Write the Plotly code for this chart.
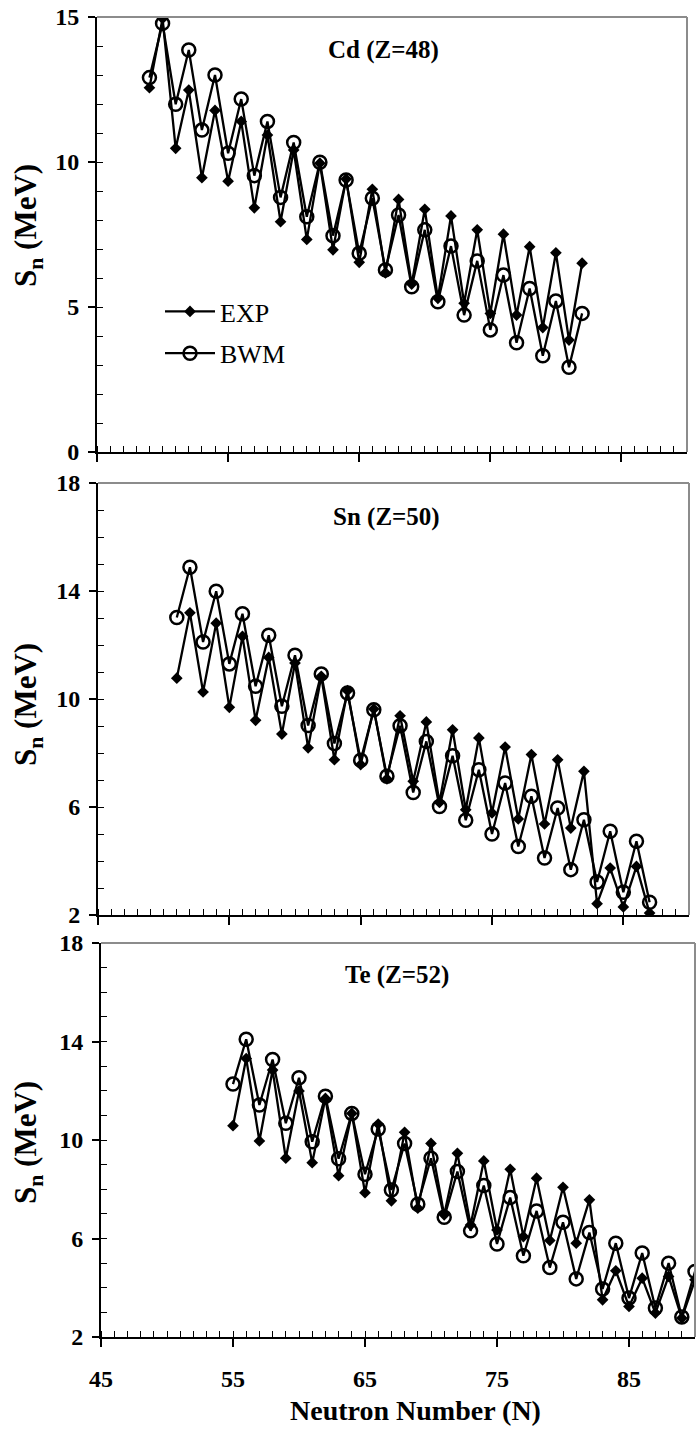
import plotly.graph_objects as go

W, H = 699, 1433

# ---------------- data ----------------
n_cd = [49, 50, 51, 52, 53, 54, 55, 56, 57, 58, 59, 60, 61, 62, 63, 64, 65,
        66, 67, 68, 69, 70, 71, 72, 73, 74, 75, 76, 77, 78, 79, 80, 81, 82]
cd_exp = [12.56, 14.95, 10.47, 12.48, 9.46, 11.78, 9.34, 11.40, 8.42, 10.93,
          7.94, 10.41, 7.33, 9.96, 6.97, 9.41, 6.54, 9.06, 6.18, 8.71, 5.79,
          8.37, 5.30, 8.14, 5.13, 7.66, 4.78, 7.51, 4.72, 7.08, 4.29, 6.87,
          3.86, 6.51]
cd_bwm = [12.91, 14.78, 11.99, 13.86, 11.10, 13.00, 10.30, 12.17, 9.53, 11.40,
          8.78, 10.67, 8.11, 9.99, 7.46, 9.38, 6.85, 8.75, 6.28, 8.17, 5.70,
          7.66, 5.18, 7.10, 4.72, 6.59, 4.21, 6.10, 3.77, 5.64, 3.32, 5.21,
          2.92, 4.78]

n_sn = [51, 52, 53, 54, 55, 56, 57, 58, 59, 60, 61, 62, 63, 64, 65, 66, 67,
        68, 69, 70, 71, 72, 73, 74, 75, 76, 77, 78, 79, 80, 81, 82, 83, 84,
        85, 86, 87]
sn_exp = [10.77, 13.19, 10.26, 12.81, 9.69, 12.32, 9.21, 11.54, 8.70, 11.33,
          8.19, 10.84, 7.75, 10.31, 7.57, 9.63, 7.04, 9.38, 6.95, 9.15, 6.17,
          8.86, 5.90, 8.56, 5.78, 8.22, 5.56, 7.94, 5.37, 7.75, 5.22, 7.32,
          2.42, 3.74, 2.30, 3.80, 2.07]
sn_bwm = [13.02, 14.88, 12.11, 13.99, 11.30, 13.16, 10.47, 12.36, 9.73, 11.62,
          9.02, 10.93, 8.35, 10.22, 7.73, 9.60, 7.14, 9.01, 6.54, 8.43, 6.02,
          7.90, 5.51, 7.38, 5.00, 6.89, 4.54, 6.40, 4.11, 5.96, 3.68, 5.53,
          3.22, 5.10, 2.84, 4.73, 2.47]

n_te = [55, 56, 57, 58, 59, 60, 61, 62, 63, 64, 65, 66, 67, 68, 69, 70, 71,
        72, 73, 74, 75, 76, 77, 78, 79, 80, 81, 82, 83, 84, 85, 86, 87, 88,
        89, 90]
te_exp = [10.58, 13.31, 9.96, 12.84, 9.26, 11.99, 9.08, 11.69, 8.55, 11.08,
          7.86, 10.65, 7.53, 10.31, 7.23, 9.86, 6.96, 9.46, 6.55, 9.15, 6.35,
          8.81, 6.08, 8.45, 5.92, 8.08, 5.81, 7.57, 3.51, 4.69, 3.24, 4.39,
          2.97, 4.46, 2.77, 4.32]
te_bwm = [12.27, 14.09, 11.42, 13.27, 10.68, 12.53, 9.93, 11.78, 9.24, 11.08,
          8.61, 10.45, 7.97, 9.86, 7.39, 9.26, 6.86, 8.72, 6.31, 8.15, 5.78,
          7.66, 5.30, 7.12, 4.82, 6.66, 4.36, 6.24, 3.95, 5.81, 3.58, 5.41,
          3.18, 5.00, 2.81, 4.66]

panel_titles = ["Cd (Z=48)", "Sn (Z=50)", "Te (Z=52)"]
series_names = ["EXP", "BWM"]
x_ticks = [45, 55, 65, 75, 85]
y_ticks_top = [0, 5, 10, 15]
y_ticks_low = [2, 6, 10, 14, 18]
x_title = "Neutron Number (N)"
y_title = "S<sub>n</sub> (MeV)"

# ---------------- layout geometry (pixels) ----------------
panels_px = [  # left, right, top, bottom
    (97, 687, 17, 452),
    (98, 689, 483, 915),
    (101, 695, 943, 1337),
]
title_px = [(383, 50), (386, 517), (397, 975)]
ytitle_center_px = [226, 705, 1143]

FONT = "Liberation Serif"


def px_x(p):
    return p / W


def px_y(p):
    return 1 - p / H


fig = go.Figure()

datasets = [
    (n_cd, cd_exp, cd_bwm),
    (n_sn, sn_exp, sn_bwm),
    (n_te, te_exp, te_bwm),
]

for i, (nx, exp, bwm) in enumerate(datasets):
    xa = "x" if i == 0 else f"x{i+1}"
    ya = "y" if i == 0 else f"y{i+1}"
    fig.add_trace(go.Scatter(
        x=nx, y=exp, xaxis=xa, yaxis=ya, mode="lines+markers",
        name=series_names[0], legendgroup="exp", showlegend=(i == 0),
        line=dict(color="black", width=2.3),
        marker=dict(symbol="diamond", size=9, color="black"),
    ))
    fig.add_trace(go.Scatter(
        x=nx, y=bwm, xaxis=xa, yaxis=ya, mode="lines+markers",
        name=series_names[1], legendgroup="bwm", showlegend=(i == 0),
        line=dict(color="black", width=2.3),
        marker=dict(symbol="circle-open", size=13, color="black",
                    line=dict(width=2.5, color="black")),
    ))

layout = dict(
    width=W, height=H,
    margin=dict(l=0, r=0, t=0, b=0, pad=0, autoexpand=False),
    paper_bgcolor="white", plot_bgcolor="white",
    font=dict(family=FONT, color="black"),
    legend=dict(
        x=px_x(160), y=px_y(288), xanchor="left", yanchor="top",
        font=dict(family=FONT, size=26, color="black"),
        bgcolor="rgba(0,0,0,0)", traceorder="grouped", tracegroupgap=5,
        itemwidth=50,
    ),
)

for i, (l, r, t, b) in enumerate(panels_px):
    xk = "xaxis" if i == 0 else f"xaxis{i+1}"
    yk = "yaxis" if i == 0 else f"yaxis{i+1}"
    ya = "y" if i == 0 else f"y{i+1}"
    xa = "x" if i == 0 else f"x{i+1}"
    layout[xk] = dict(
        domain=[px_x(l), px_x(r)], anchor=ya, range=[45, 90],
        tickmode="array", tickvals=x_ticks, ticktext=[str(v) for v in x_ticks],
        showticklabels=(i == 2),
        ticks="outside", ticklen=8, tickwidth=1.5, tickcolor="black",
        minor=dict(tickmode="linear", tick0=45, dtick=1, ticks="inside",
                   ticklen=6, tickwidth=1, tickcolor="black", showgrid=False),
        showline=True, linecolor="black", linewidth=2,
        showgrid=False, zeroline=False, automargin=False,
        tickfont=dict(family=FONT, size=24, weight="bold", color="black"),
        ticklabelstandoff=11,
    )
    if i == 0:
        yr = [0, 15]
        yt = y_ticks_top
        t0 = 0
    else:
        yr = [2, 18]
        yt = y_ticks_low
        t0 = 2
    layout[yk] = dict(
        domain=[px_y(b), px_y(t)], anchor=xa, range=yr,
        tickmode="array", tickvals=yt, ticktext=[str(v) for v in yt],
        ticks="outside", ticklen=7, tickwidth=1.5, tickcolor="black",
        minor=dict(tickmode="linear", tick0=t0, dtick=1, ticks="inside",
                   ticklen=6, tickwidth=1, tickcolor="black", showgrid=False),
        showline=True, linecolor="black", linewidth=2,
        showgrid=False, zeroline=False, automargin=False,
        tickfont=dict(family=FONT, size=24, weight="bold", color="black"),
        ticklabelstandoff=4,
    )

fig.update_layout(**layout)

shapes = []
annotations = []
for i, (l, r, t, b) in enumerate(panels_px):
    xa = "x" if i == 0 else f"x{i+1}"
    ya = "y" if i == 0 else f"y{i+1}"
    # grey frame on top and right
    shapes.append(dict(type="line", xref=f"{xa} domain", yref=f"{ya} domain",
                       x0=0, x1=1, y0=1, y1=1,
                       line=dict(color="#8c8c8c", width=2), layer="above"))
    shapes.append(dict(type="line", xref=f"{xa} domain", yref=f"{ya} domain",
                       x0=1, x1=1, y0=0, y1=1,
                       line=dict(color="#8c8c8c", width=2), layer="above"))
    tx, ty = title_px[i]
    annotations.append(dict(
        text=panel_titles[i], xref="paper", yref="paper",
        x=px_x(tx), y=px_y(ty), xanchor="center", yanchor="middle",
        showarrow=False,
        font=dict(family=FONT, size=25, weight="bold", color="black"),
    ))
    annotations.append(dict(
        text=y_title, xref="paper", yref="paper", textangle=-90,
        x=px_x(28), y=px_y(ytitle_center_px[i]),
        xanchor="center", yanchor="middle",
        showarrow=False,
        font=dict(family=FONT, size=31, weight="bold", color="black"),
    ))

annotations.append(dict(
    text=x_title, xref="paper", yref="paper",
    x=px_x(415), y=px_y(1410), xanchor="center", yanchor="middle",
    showarrow=False,
    font=dict(family=FONT, size=28, weight="bold", color="black"),
))

fig.update_layout(shapes=shapes, annotations=annotations)

fig.write_html(
    "out.html",
    post_script="document.body.style.margin='0';document.body.style.padding='0';",
)
